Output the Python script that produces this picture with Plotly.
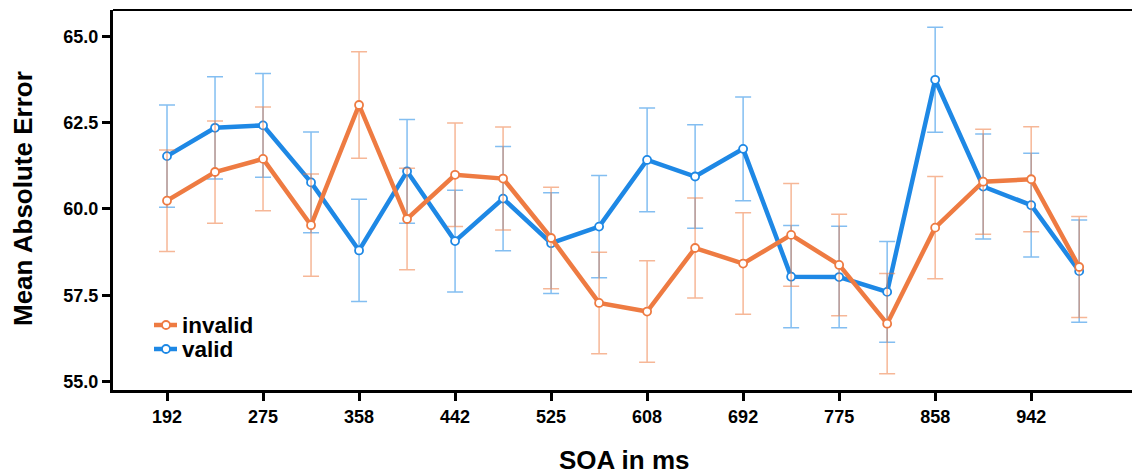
import plotly.graph_objects as go

soa = ["192", "233", "275", "317", "358", "400", "442", "483", "525", "567",
       "608", "650", "692", "733", "775", "817", "858", "900", "942", "983"]
tick_labels = soa[::2]

invalid_mean = [60.24, 61.07, 61.45, 59.53, 63.01, 59.71, 60.99, 60.88, 59.16, 57.28,
                57.03, 58.87, 58.42, 59.25, 58.38, 56.68, 59.46, 60.79, 60.86, 58.32]
invalid_err = [1.47, 1.48, 1.50, 1.48, 1.54, 1.47, 1.50, 1.49, 1.47, 1.47,
               1.47, 1.45, 1.47, 1.49, 1.47, 1.45, 1.48, 1.52, 1.52, 1.46]

valid_mean = [61.53, 62.35, 62.42, 60.77, 58.80, 61.09, 59.07, 60.30, 59.01, 59.49,
              61.42, 60.94, 61.74, 58.04, 58.03, 57.60, 63.74, 60.65, 60.11, 58.20]
valid_err = [1.48, 1.48, 1.50, 1.46, 1.48, 1.50, 1.47, 1.51, 1.46, 1.48,
             1.50, 1.50, 1.50, 1.48, 1.47, 1.46, 1.52, 1.52, 1.50, 1.48]

ORANGE = "#EE7B42"
BLUE = "#1E88E5"
FONT = "Liberation Sans, Arial, sans-serif"

W, H = 1132, 474
ML, MR, MT, MB = 113, 0, 10, 84
PW, PH = W - ML - MR, H - MT - MB


def px(xp):
    return (xp - ML) / PW


def py(yp):
    return (H - MB - yp) / PH


fig = go.Figure()

fig.add_trace(go.Scatter(
    x=soa, y=valid_mean, name="valid", mode="lines+markers",
    line=dict(color=BLUE, width=4.5),
    marker=dict(symbol="circle", size=8, color="white", line=dict(color=BLUE, width=1.8)),
    error_y=dict(type="data", array=valid_err, visible=True,
                 color="rgba(30,136,229,0.55)", thickness=1.5, width=8),
))
fig.add_trace(go.Scatter(
    x=soa, y=invalid_mean, name="invalid", mode="lines+markers",
    line=dict(color=ORANGE, width=4.5),
    marker=dict(symbol="circle", size=8, color="white", line=dict(color=ORANGE, width=1.8)),
    error_y=dict(type="data", array=invalid_err, visible=True,
                 color="rgba(238,123,66,0.55)", thickness=1.5, width=8),
))

# custom legend (symbol + label)
shapes = [dict(type="line", xref="paper", yref="paper", x0=0, x1=1, y0=1, y1=1,
               line=dict(color="black", width=2))]
annotations = []
for label, color, yrow in [("invalid", ORANGE, 325), ("valid", BLUE, 349)]:
    shapes.append(dict(type="line", xref="paper", yref="paper",
                       x0=px(154), x1=px(177), y0=py(yrow), y1=py(yrow),
                       line=dict(color=color, width=4.5)))
    shapes.append(dict(type="circle", xref="paper", yref="paper",
                       x0=px(166 - 4), x1=px(166 + 4), y0=py(yrow + 4), y1=py(yrow - 4),
                       fillcolor="white", line=dict(color=color, width=1.8)))
    annotations.append(dict(text=label, xref="paper", yref="paper",
                            x=px(180), y=py(yrow), xanchor="left", yanchor="middle",
                            showarrow=False,
                            font=dict(family=FONT, size=22.5, color="black", weight="bold")))

annotations += [
    dict(text="Mean Absolute Error", xref="paper", yref="paper",
         x=px(23), y=py(199), xanchor="center", yanchor="middle",
         textangle=-90, showarrow=False,
         font=dict(family=FONT, size=26, color="black", weight="bold")),
    dict(text="SOA in ms", xref="paper", yref="paper",
         x=px(624), y=py(460), xanchor="center", yanchor="middle", showarrow=False,
         font=dict(family=FONT, size=26, color="black", weight="bold")),
]

fig.update_layout(
    width=W, height=H,
    margin=dict(l=ML, r=MR, t=MT, b=MB),
    paper_bgcolor="white", plot_bgcolor="white",
    font=dict(family=FONT, color="black"),
    showlegend=False,
    xaxis=dict(
        type="category", range=[-1.125, 20.1],
        tickmode="array", tickvals=tick_labels, ticktext=tick_labels,
        showline=True, linecolor="black", linewidth=3,
        ticks="outside", ticklen=8, tickwidth=2.5, tickcolor="black",
        showgrid=False, zeroline=False,
        tickfont=dict(family=FONT, size=18, color="black", weight="bold"),
    ),
    yaxis=dict(
        range=[54.76, 65.76], tick0=55, dtick=2.5, tickformat=".1f",
        showline=True, linecolor="black", linewidth=3,
        ticks="outside", ticklen=8, tickwidth=2.5, tickcolor="black",
        showgrid=False, zeroline=False,
        tickfont=dict(family=FONT, size=18, color="black", weight="bold"),
    ),
    shapes=shapes,
    annotations=annotations,
)

fig.write_html("out.html", config={"displayModeBar": False},
               post_script="document.body.style.margin='0';document.body.style.padding='0';")
